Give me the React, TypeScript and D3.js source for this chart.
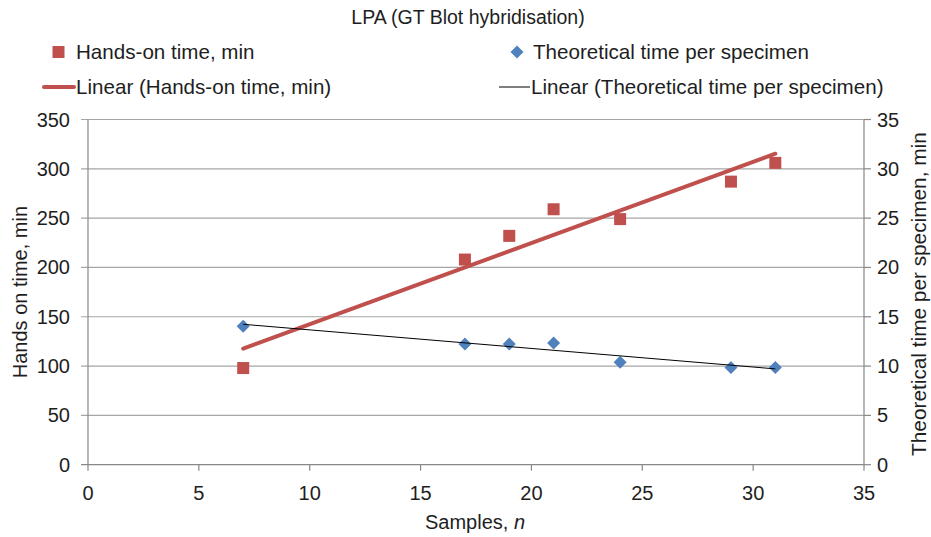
import React from "react";
import * as d3 from "d3";

const samples = [7, 17, 19, 21, 24, 29, 31];
const handsOn = [98, 208, 232, 259, 249, 287, 306];
const theoretical = [14.05, 12.25, 12.25, 12.35, 10.4, 9.85, 9.85];
const xTicks = [0, 5, 10, 15, 20, 25, 30, 35];
const leftTicks = [0, 50, 100, 150, 200, 250, 300, 350];
const rightTicks = [0, 5, 10, 15, 20, 25, 30, 35];

const RED = "#C0504D";
const BLUE = "#4F81BD";
const W = 931;
const H = 537;
const left = 88;
const right = 864;
const top = 119.5;
const bottom = 464.7;
const font = "'Liberation Sans', Arial, sans-serif";
const fs = 20;
const legendFs = 20.6;

// least squares fit, as Excel's linear trendline
function fit(xs: number[], ys: number[]) {
  const mx = d3.mean(xs) as number;
  const my = d3.mean(ys) as number;
  let sxy = 0;
  let sxx = 0;
  xs.forEach((x, i) => {
    sxy += (x - mx) * (ys[i] - my);
    sxx += (x - mx) * (x - mx);
  });
  const b = sxy / sxx;
  return (x: number) => my + b * (x - mx);
}

// square turned 45 degrees, like Excel's diamond marker
const diamond = "M0,-6.5L6.5,0L0,6.5L-6.5,0Z";

export default function App() {
  const x = d3.scaleLinear().domain([0, 35]).range([left, right]);
  const yL = d3.scaleLinear().domain([0, 350]).range([bottom, top]);
  const yR = d3.scaleLinear().domain([0, 35]).range([bottom, top]);
  const x0 = d3.min(samples) as number;
  const x1 = d3.max(samples) as number;
  const fH = fit(samples, handsOn);
  const fT = fit(samples, theoretical);
  const line = d3.line<[number, number]>();

  return (
    <svg
      width={W}
      height={H}
      style={{ position: "absolute", left: 0, top: 0 }}
      fontFamily={font}
    >
      <rect width={W} height={H} fill="#fff" />
      <text x={468} y={24} textAnchor="middle" fontSize={19.5} fill="#1e1e1e">
        LPA (GT Blot hybridisation)
      </text>

      {/* legend */}
      <rect x={52.5} y={46} width={12} height={12} fill={RED} />
      <text x={76} y={59} fontSize={legendFs} fill="#1e1e1e">Hands-on time, min</text>
      <path d={diamond} transform="translate(517,52)" fill={BLUE} />
      <text x={533} y={59} fontSize={legendFs} fill="#1e1e1e">Theoretical time per specimen</text>
      <line x1={44} x2={74} y1={87} y2={87} stroke={RED} strokeWidth={4} strokeLinecap="round" />
      <text x={76} y={94} fontSize={legendFs} fill="#1e1e1e">Linear (Hands-on time, min)</text>
      <line x1={499} x2={530} y1={87} y2={87} stroke="#000" strokeWidth={1} />
      <text x={531} y={94} fontSize={legendFs} fill="#1e1e1e">Linear (Theoretical time per specimen)</text>

      {/* grid */}
      {leftTicks.map((t) => (
        <g key={"g" + t}>
          <line x1={left - 7} x2={right} y1={yL(t)} y2={yL(t)} stroke={t === 0 ? "#888" : "#a6a6a6"} strokeWidth={1.2} />
          <text x={70} y={yL(t) + 7} textAnchor="end" fontSize={fs} fill="#1e1e1e">{t}</text>
        </g>
      ))}
      {rightTicks.map((t) => (
        <g key={"r" + t}>
          <line x1={right} x2={right + 7} y1={yR(t)} y2={yR(t)} stroke="#888" strokeWidth={1.2} />
          <text x={877} y={yR(t) + 7} fontSize={fs} fill="#1e1e1e">{t}</text>
        </g>
      ))}
      {xTicks.map((t) => (
        <g key={"x" + t}>
          <line x1={x(t)} x2={x(t)} y1={bottom} y2={bottom + 6} stroke="#888" strokeWidth={1.2} />
          <text x={x(t)} y={500} textAnchor="middle" fontSize={fs} fill="#1e1e1e">{t}</text>
        </g>
      ))}
      <line x1={left} x2={left} y1={top} y2={bottom} stroke="#888" strokeWidth={1.2} />
      <line x1={right} x2={right} y1={top} y2={bottom} stroke="#888" strokeWidth={1.2} />

      {/* axis titles */}
      <text transform={`translate(27,${(top + bottom) / 2}) rotate(-90)`} textAnchor="middle" fontSize={fs} fill="#1e1e1e">
        Hands on time, min
      </text>
      <text transform={`translate(926,${(top + bottom) / 2 + 2}) rotate(-90)`} textAnchor="middle" fontSize={20.8} fill="#1e1e1e">
        Theoretical time per specimen, min
      </text>
      <text x={475} y={529} textAnchor="middle" fontSize={fs} fill="#1e1e1e">
        Samples, <tspan fontStyle="italic">n</tspan>
      </text>

      {/* series */}
      {handsOn.map((v, i) => (
        <rect key={"h" + i} x={x(samples[i]) - 6} y={yL(v) - 6} width={12} height={12} fill={RED} />
      ))}
      <path
        d={line([[x(x0), yL(fH(x0))], [x(x1), yL(fH(x1))]]) as string}
        stroke={RED}
        strokeWidth={4}
        strokeLinecap="round"
        fill="none"
      />
      {theoretical.map((v, i) => (
        <path key={"t" + i} d={diamond} transform={`translate(${x(samples[i])},${yR(v)})`} fill={BLUE} />
      ))}
      <path
        d={line([[x(x0), yR(fT(x0))], [x(x1), yR(fT(x1))]]) as string}
        stroke="#000"
        strokeWidth={1}
        fill="none"
      />
    </svg>
  );
}
